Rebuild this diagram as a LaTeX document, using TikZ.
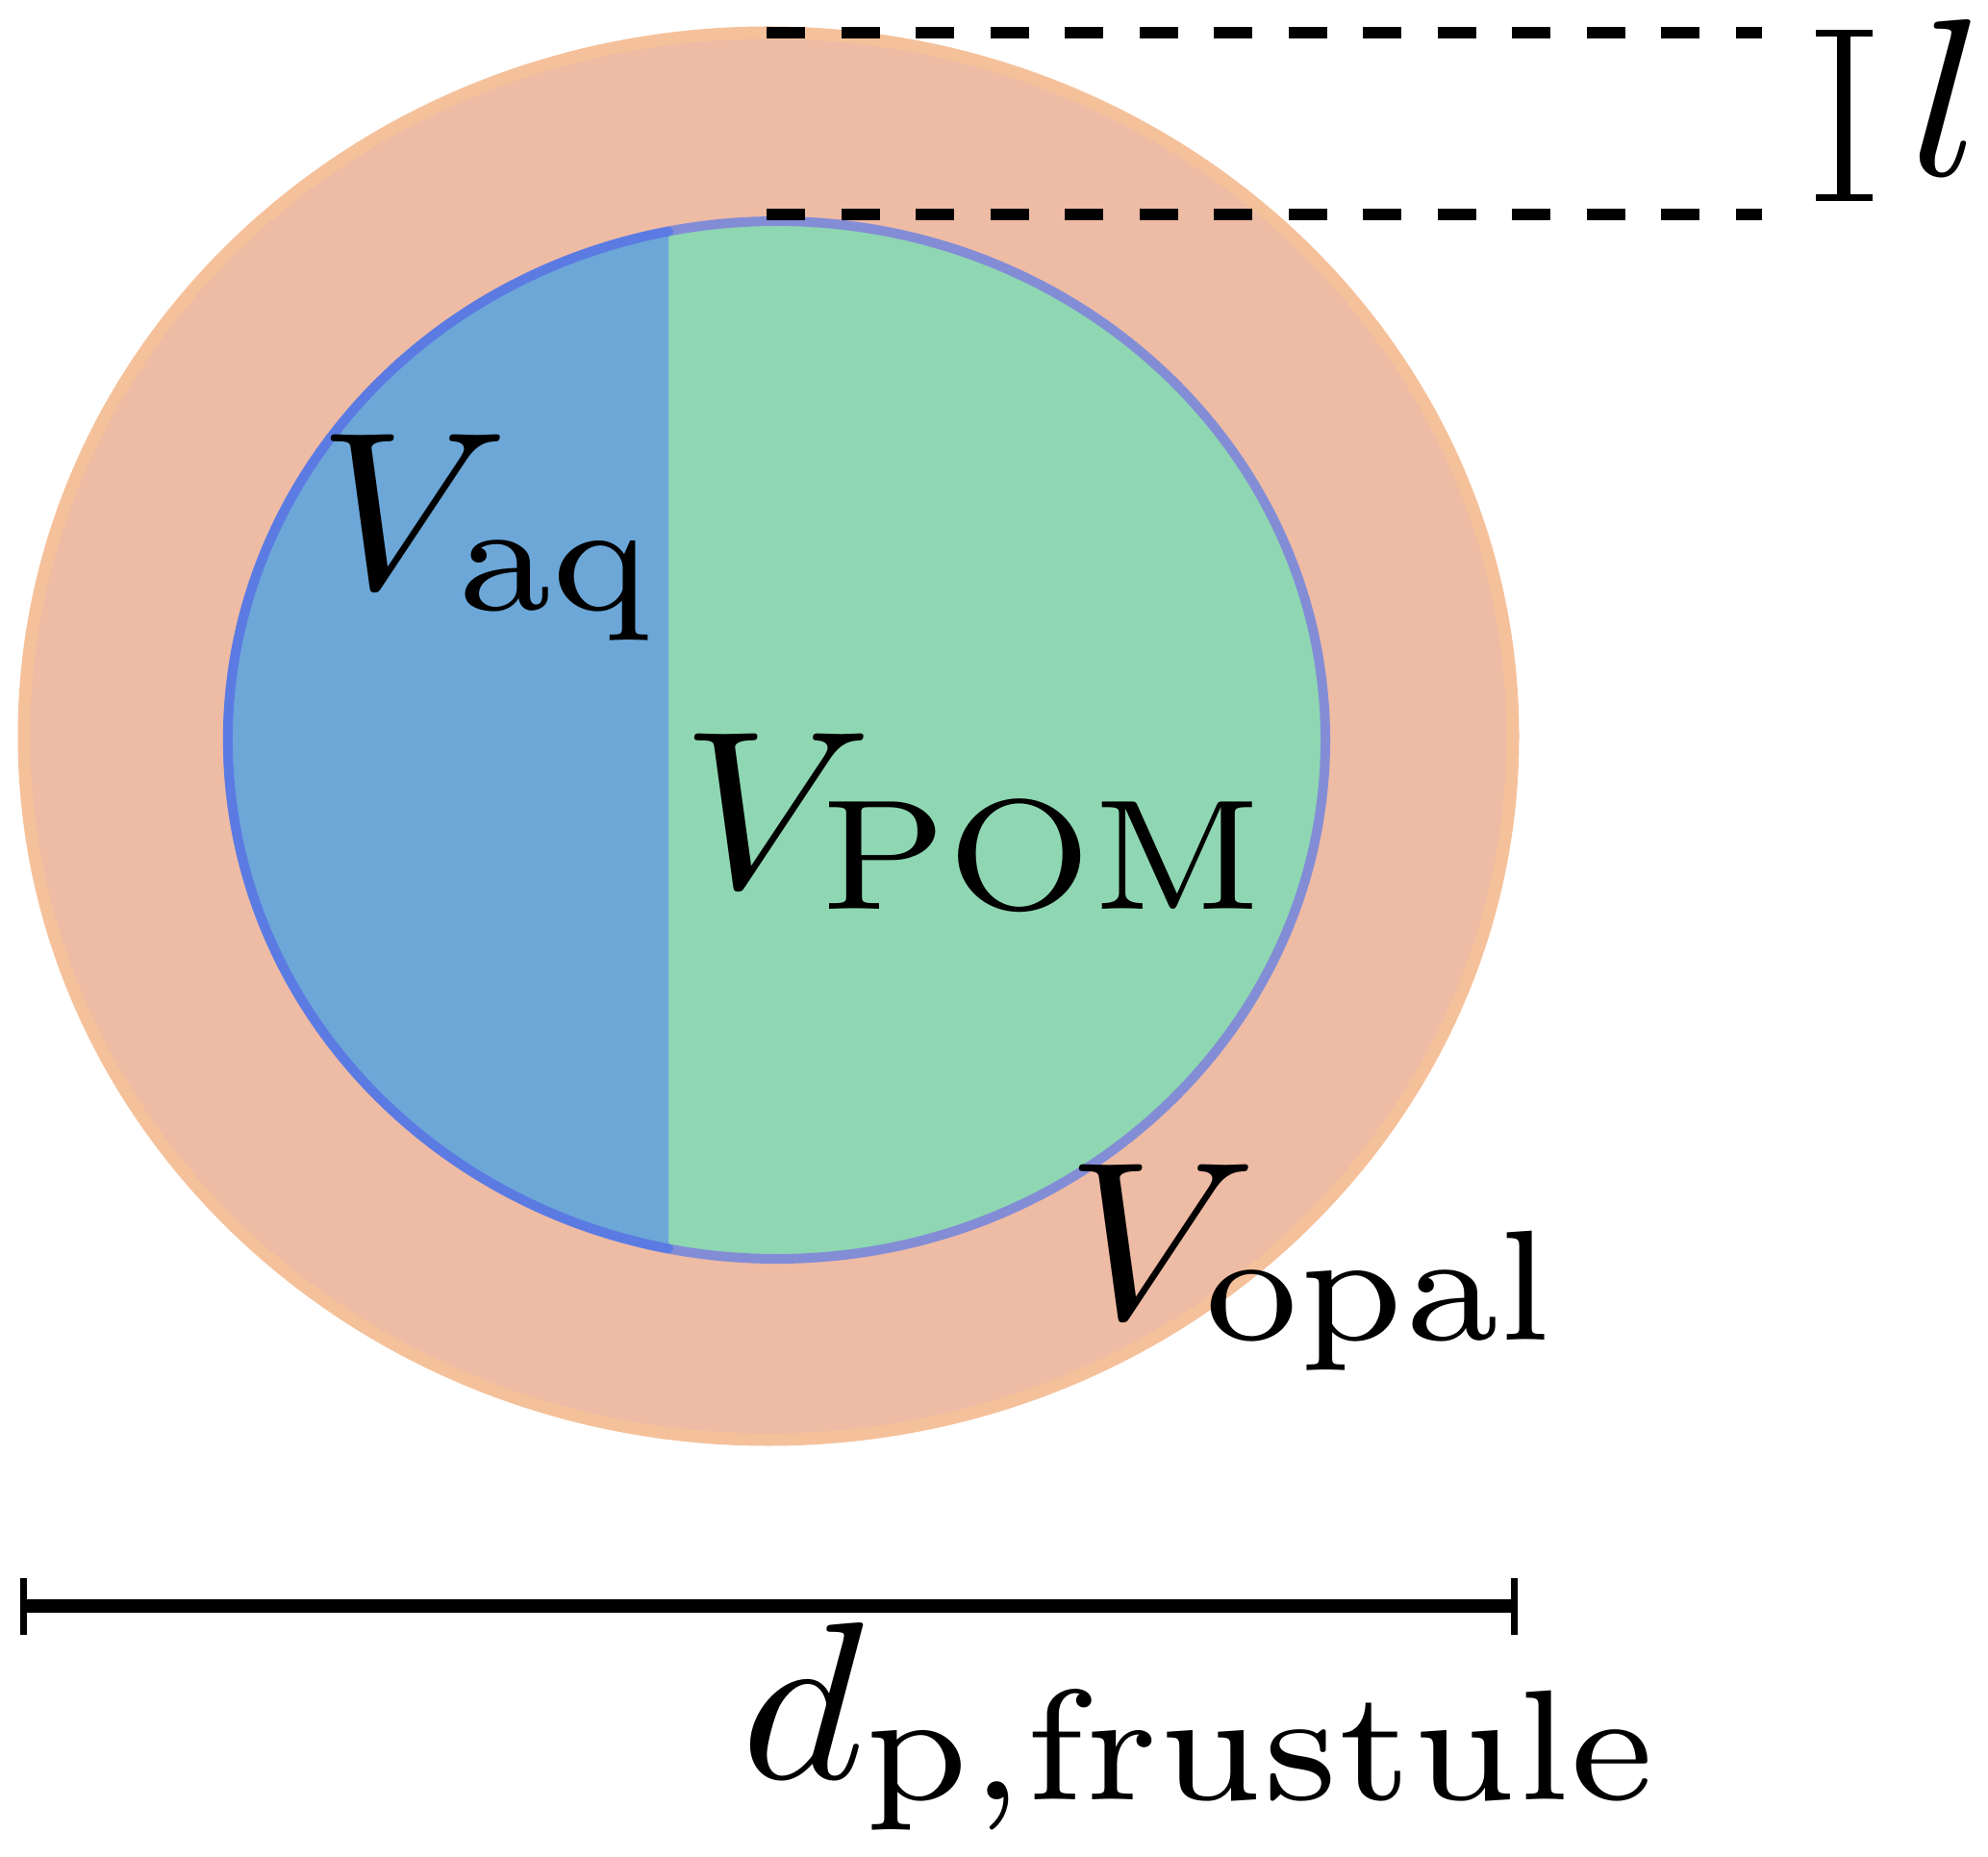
\documentclass[tikz,border=0pt]{standalone}
\usepackage{graphicx}
\usetikzlibrary{arrows.meta}

\definecolor{opalfill}{HTML}{EEBBA5}
\definecolor{opalline}{HTML}{F5C19B}
\definecolor{aqfill}{HTML}{6CA7D8}
\definecolor{aqline}{HTML}{5B7BE3}
\definecolor{pomfill}{HTML}{8FD7B2}
\definecolor{pomline}{HTML}{838DD6}
\newcommand\bigsym[1]{\scalebox{7.02}[6.64]{$#1$}}
\newcommand\blow[2]{\bigsym{#1_{\smash{\raisebox{0.55pt}{$\scriptstyle\mathrm{#2}$}}}}}

\tikzset{
  lbl/.style={inner sep=0pt, anchor=base},
  guide/.style={line width=1.2mm, dash pattern=on 4mm off 3.75mm},
  dim/.style={line width=1.4mm, {Bar[width=5.9mm,line width=0.7mm]}-{Bar[width=5.9mm,line width=0.7mm]}}
}

\begin{document}
\begin{tikzpicture}
\useasboundingbox (0,0) rectangle (20.67,19.30);
\draw[opalline, fill=opalfill, line width=1.3mm] (7.99,11.645) ellipse [x radius=7.74, y radius=7.315];
\draw[pomline, fill=pomfill, line width=1mm] (8.075,11.605) ellipse [x radius=5.705, y radius=5.395];
\fill[aqfill] (8.075,11.605) ++(101.37:5.705 and 5.395) arc [start angle=101.37, end angle=258.63, x radius=5.705, y radius=5.395] -- cycle;
\draw[aqline, line width=1mm, line cap=round] (8.075,11.605) ++(101.37:5.705 and 5.395) arc [start angle=101.37, end angle=258.63, x radius=5.705, y radius=5.395];
\foreach \y in {18.96,17.065}
  \draw[guide] (7.97,\y) -- (18.32,\y);
\coordinate (ltop) at (19.17,18.99);
\coordinate (lbot) at (19.17,17.21);
\draw[dim] (ltop) -- (lbot);
\coordinate (dleft) at (0.21,2.60);
\coordinate (dright) at (15.78,2.60);
\draw[dim] (dleft) -- (dright);
\node[lbl] (aq) at (5.10,13.18) {\blow{V}{aq}};
\node[lbl] (pom) at (10.17,10.07) {\blow{V}{POM}};
\node[lbl] (opal) at (13.67,5.59) {\blow{V}{opal}};
\node[lbl] (dp) at (12.52,0.81) {\blow{d}{p,frustule}};
\node[lbl] (len) at (20.25,17.47) {\bigsym{l}};
\end{tikzpicture}
\end{document}
